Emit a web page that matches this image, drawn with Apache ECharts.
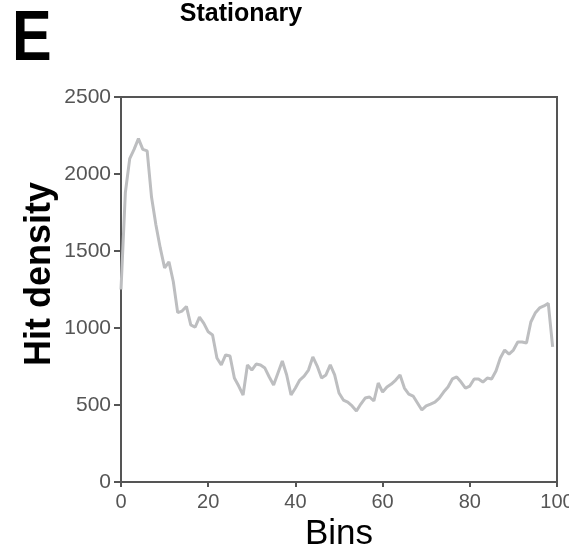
<!DOCTYPE html>
<html>
<head>
<meta charset="utf-8">
<script src="https://cdn.jsdelivr.net/npm/echarts@6/dist/echarts.min.js"></script>
<style>html,body{margin:0;padding:0;background:#fff;}#c{width:569px;height:548px;}</style>
</head>
<body>
<div id="c"></div>
<script>
var bins = [];
for (var i = 0; i < 100; i++) bins.push(i);
var hitDensity = [
  1250, 1880, 2100, 2160, 2230, 2160, 2150, 1850, 1670, 1520,
  1390, 1430, 1300, 1100, 1110, 1140, 1020, 1005, 1070, 1030,
  975, 955, 805, 760, 825, 818, 675, 623, 565, 760,
  727, 766, 760, 740, 682, 630, 708, 786, 695, 565,
  610, 662, 688, 727, 812, 753, 675, 695, 760, 695,
  578, 532, 519, 494, 461, 506, 545, 552, 526, 643,
  584, 617, 636, 662, 695, 610, 571, 558, 513, 468,
  494, 506, 519, 545, 584, 617, 669, 682, 649, 610,
  623, 669, 669, 649, 675, 669, 721, 805, 857, 831,
  857, 909, 909, 903, 1039, 1097, 1130, 1143, 1160, 877
];
var xTicks = [0, 20, 40, 60, 80, 100];
var yTicks = [0, 500, 1000, 1500, 2000, 2500];

var chart = echarts.init(document.getElementById('c'), null, {renderer: 'canvas'});
var axisColor = '#555555';
var labelFont = 'Liberation Sans, Arial, sans-serif';
function plain(v) { return String(v); }
chart.setOption({
  animation: false,
  backgroundColor: '#ffffff',
  title: {
    text: 'Stationary',
    left: 241, top: 2, padding: 0, textAlign: 'center',
    textStyle: {fontFamily: labelFont, fontWeight: 'bold', fontSize: 25, color: '#000'}
  },
  graphic: [
    {type: 'text', x: 12, y: 6, scaleX: 0.85, originX: 0, originY: 0,
     style: {text: 'E', fontFamily: labelFont, fontWeight: 'bold', fontSize: 70, fill: '#000'}},
    {type: 'text', x: 40, y: 274, rotation: Math.PI / 2,
     style: {text: 'Hit density', fontFamily: labelFont, fontWeight: 'bold', fontSize: 36, fill: '#000', align: 'center', verticalAlign: 'middle'}}
  ],
  grid: {left: 121, right: 12, top: 97, bottom: 66, outerBoundsMode: 'none', containLabel: false,
         show: true, borderColor: axisColor, borderWidth: 2, backgroundColor: 'transparent'},
  xAxis: {
    type: 'value', min: xTicks[0], max: xTicks[xTicks.length - 1], interval: 20,
    name: 'Bins', nameLocation: 'middle', nameGap: 29,
    nameTextStyle: {fontFamily: labelFont, fontSize: 35, color: '#000'},
    axisLine: {show: true, lineStyle: {color: axisColor, width: 2}},
    axisTick: {show: true, length: 5, lineStyle: {color: axisColor, width: 2}},
    axisLabel: {fontFamily: labelFont, fontSize: 20, color: axisColor, margin: 10, showMaxLabel: true, showMinLabel: true, formatter: plain},
    splitLine: {show: false}
  },
  yAxis: {
    type: 'value', min: yTicks[0], max: yTicks[yTicks.length - 1], interval: 500,
    axisLine: {show: true, lineStyle: {color: axisColor, width: 2}},
    axisTick: {show: true, length: 7, lineStyle: {color: axisColor, width: 2}},
    axisLabel: {fontFamily: labelFont, fontSize: 21, color: axisColor, margin: 10, formatter: plain},
    splitLine: {show: false}
  },
  series: [{
    type: 'line',
    data: bins.map(function (b, i) { return [b, hitDensity[i]]; }),
    showSymbol: false,
    lineStyle: {color: '#bdbec0', width: 3},
    clip: true
  }]
});
</script>
</body>
</html>
